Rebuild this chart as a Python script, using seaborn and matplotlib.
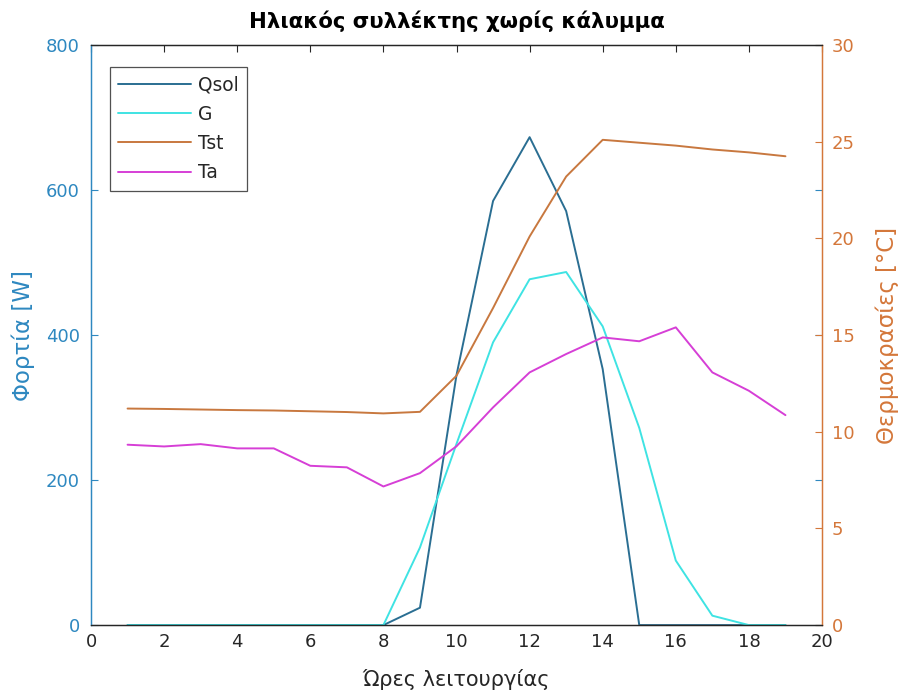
import numpy as np
import pandas as pd
import matplotlib
matplotlib.use("Agg")
import matplotlib.pyplot as plt
import seaborn as sns

# Operating hours of the collector
hours = list(range(1, 20))

# Loads [W] (left axis)
qsol = [0, 0, 0, 0, 0, 0, 0, 0, 24, 345, 585, 673, 571, 353, 0, 0, 0, 0, 0]
g_irr = [0, 0, 0, 0, 0, 0, 0, 0, 107, 250, 390, 477, 487, 412, 272, 89, 13, 0, 0]

# Temperatures [°C] (right axis)
t_st = [11.2, 11.18, 11.15, 11.12, 11.1, 11.06, 11.02, 10.95, 11.03, 12.9,
        16.4, 20.1, 23.2, 25.1, 24.95, 24.8, 24.6, 24.45, 24.25]
t_a = [9.33, 9.24, 9.36, 9.14, 9.14, 8.24, 8.16, 7.17, 7.86, 9.25,
       11.26, 13.07, 14.02, 14.88, 14.68, 15.4, 13.07, 12.12, 10.86]

x_ticks = [0, 2, 4, 6, 8, 10, 12, 14, 16, 18, 20]
left_ticks = [0, 200, 400, 600, 800]
right_ticks = [0, 5, 10, 15, 20, 25, 30]

df = pd.DataFrame({"hour": hours, "Qsol": qsol, "G": g_irr, "Tst": t_st, "Ta": t_a})

sns.set_style("white")
plt.rcParams["font.family"] = ["DejaVu Sans"]

c_qsol = "#2a6e92"
c_g = "#3fe3e3"
c_tst = "#c8783f"
c_ta = "#d63fd6"
c_left = "#2e88c0"
c_right = "#d4773a"
c_dark = "#262626"

fig = plt.figure(figsize=(9.03, 7.0), dpi=100)
ax = fig.add_axes([0.1008, 0.107, 0.8095, 0.8286])
ax2 = ax.twinx()

lw = 1.4
sns.lineplot(data=df, x="hour", y="Qsol", ax=ax, color=c_qsol, lw=lw, label="Qsol", legend=False)
sns.lineplot(data=df, x="hour", y="G", ax=ax, color=c_g, lw=lw, label="G", legend=False)
sns.lineplot(data=df, x="hour", y="Tst", ax=ax2, color=c_tst, lw=lw, label="Tst", legend=False)
sns.lineplot(data=df, x="hour", y="Ta", ax=ax2, color=c_ta, lw=lw, label="Ta", legend=False)

ax.set_xlim(0, 20)
ax.set_ylim(0, 800)
ax2.set_ylim(0, 30)
ax.set_xticks(x_ticks)
ax.set_yticks(left_ticks)
ax2.set_yticks(right_ticks)

tick_fs = 13
ax.tick_params(axis="x", direction="in", top=True, length=5, width=0.8,
               colors=c_dark, labelsize=tick_fs, pad=6)
ax.tick_params(axis="y", direction="in", right=True, length=5, width=0.8,
               colors=c_left, labelsize=tick_fs, pad=8)
ax2.tick_params(axis="y", direction="in", length=5, width=0.8,
                colors=c_right, labelsize=tick_fs, pad=7)

for a in (ax, ax2):
    for side in ("top", "bottom"):
        a.spines[side].set_color(c_dark)
        a.spines[side].set_linewidth(0.9)
    a.spines["left"].set_color(c_left)
    a.spines["right"].set_color(c_right)
    a.spines["left"].set_linewidth(0.9)
    a.spines["right"].set_linewidth(0.9)

ax.set_xlabel("Ώρες λειτουργίας", fontsize=15, color=c_dark, labelpad=13)
ax.set_ylabel("Φορτία [W]", fontsize=16.5, color=c_left, labelpad=8)
ax2.set_ylabel("Θερμοκρασίες [°C]", fontsize=16.5, color=c_right, rotation=90, labelpad=15)
ax.set_title("Ηλιακός συλλέκτης χωρίς κάλυμμα", fontsize=15.3, fontweight="bold",
             color="black", pad=12)

handles = ax.get_lines() + ax2.get_lines()
labels = [h.get_label() for h in handles]
leg = ax2.legend(handles, labels, loc="upper left", bbox_to_anchor=(0.026, 0.962),
                 fontsize=13.4, handlelength=3.9, frameon=True, fancybox=False,
                 borderpad=0.45, labelspacing=0.55, handletextpad=0.35, borderaxespad=0)
leg.get_frame().set_edgecolor(c_dark)
leg.get_frame().set_linewidth(0.9)
for t in leg.get_texts():
    t.set_color(c_dark)

fig.savefig("out.png", dpi=100)
